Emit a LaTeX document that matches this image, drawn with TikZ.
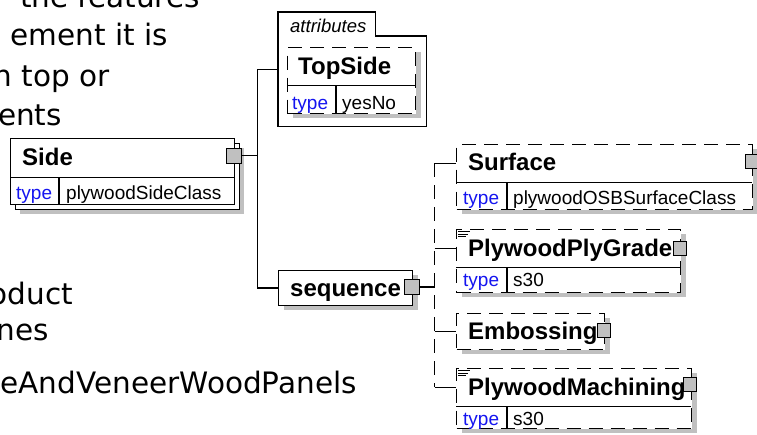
\documentclass[tikz,border=0pt]{standalone}
\usepackage{fontspec}
\setmainfont{Liberation Sans}
\newfontfamily\bgfont{DejaVu Sans}
\usetikzlibrary{calc}
\definecolor{shadowgray}{RGB}{192,192,192}
\definecolor{pluggray}{RGB}{192,192,192}
\definecolor{typeblue}{RGB}{20,20,240}

\begin{document}
\begin{tikzpicture}[x=1pt, y=-1pt,
    every node/.style={inner sep=0pt},
    elbox/.style={draw, line width=1.2pt, fill=white, anchor=north west},
    optbox/.style={elbox, dash pattern=on 14pt off 8pt},
    shade/.style={fill=shadowgray, anchor=north west},
    hdr/.style={anchor=north west},
    sep/.style={line width=1.2pt},
    link/.style={line width=1.2pt},
    optlink/.style={link, dash pattern=on 14pt off 8pt},
    ttl/.style={font=\bfseries\fontsize{24}{24}\selectfont, anchor=base west},
    typ/.style={font=\fontsize{19}{19}\selectfont, text=typeblue, anchor=base west},
    val/.style={font=\fontsize{19}{19}\selectfont, anchor=base west},
    plug/.style={draw, fill=pluggray, line width=1pt, minimum width=13pt, minimum height=14pt},
    doc/.style={line width=0.8pt},
    bg/.style={font=\bgfont\fontsize{29.5}{29.5}\selectfont, anchor=base east}
  ]
  \useasboundingbox (0,0) rectangle (757,435);
  \clip (0,0) rectangle (757,435);
  \fill[white] (0,0) rectangle (757,435);

  % text of the page behind the diagram
  \node[bg] (bg1) at (200,8) {the features};
  \node[bg] (bg2) at (168,46) {ement it is};
  \node[bg] (bg3) at (110,87) {n top or};
  \node[bg] (bg4) at (62,126) {ents};
  \node[bg] (bg5) at (73,305) {oduct};
  \node[bg] (bg6) at (49,340) {nes};
  \node[bg] (bg7) at (357,393) {teAndVeneerWoodPanels};

  % Side
  \node[shade, minimum width=224pt, minimum height=66pt] (side-sh) at (20,148) {};
  \node[elbox, minimum width=224pt, minimum height=66pt] (side-bk) at (15,143) {};
  \node[elbox, minimum width=224pt, minimum height=66pt] (side) at (10,138) {};
  \node[hdr, minimum width=224pt, minimum height=39pt] (side-hd) at (10,138) {};
  \draw[sep] (side-hd.south west) -- (side-hd.south east);
  \draw[sep] ([xshift=49pt]side-hd.south west) -- ([xshift=49pt]side.south west);
  \node[ttl] (side-t) at ([xshift=12pt, yshift=-8pt]side-hd.west) {Side};
  \node[typ] (side-k) at ([xshift=6pt, yshift=6pt]side.south west) {type};
  \node[val] (side-v) at ([xshift=56pt, yshift=6pt]side.south west) {plywoodSideClass};
  \node[plug, minimum width=15pt, minimum height=15pt] (sidePlug) at ([yshift=2pt]side-hd.east) {};

  % attributes
  \node[hdr, minimum width=97pt, minimum height=24pt] (attTab) at (278,12) {};
  \node[hdr, minimum width=148pt, minimum height=90pt] (attBody) at (278,36) {};
  \node[hdr, minimum width=148pt, minimum height=114pt] (attAll) at (278,12) {};
  \draw[link] (attTab.south west) |- (attTab.north east) |- (attBody.north east) |- (attBody.south west) -- cycle;
  \node[font=\itshape\fontsize{18.5}{18.5}\selectfont, anchor=base west] (attLbl) at (290,33) {attributes};

  % TopSide
  \node[shade, minimum width=128pt, minimum height=66pt] (top-sh) at (293,52) {};
  \node[optbox, minimum width=128pt, minimum height=66pt] (top) at (287,47) {};
  \node[hdr, minimum width=128pt, minimum height=38pt] (top-hd) at (287,47) {};
  \draw[sep] (top-hd.south west) -- (top-hd.south east);
  \draw[sep] ([xshift=49pt]top-hd.south west) -- ([xshift=49pt]top.south west);
  \node[ttl] (top-t) at ([xshift=11pt, yshift=-8pt]top-hd.west) {TopSide};
  \node[typ] (top-k) at ([xshift=5pt, yshift=5pt]top.south west) {type};
  \node[val] (top-v) at ([xshift=55pt, yshift=5pt]top.south west) {yesNo};

  % sequence
  \node[shade, minimum width=134pt, minimum height=35pt] (seq-sh) at (284,275) {};
  \node[elbox, minimum width=134pt, minimum height=35pt] (seq) at (278,270) {};
  \node[ttl] (seq-t) at ([xshift=12pt, yshift=-8pt]seq.west) {sequence};
  \node[plug, minimum width=15pt, minimum height=15pt] (seqPlug) at ([xshift=-1.5pt, yshift=1pt]seq.east) {};

  % Surface
  \node[shade, minimum width=296pt, minimum height=65pt] (surf-sh) at (462,149) {};
  \node[optbox, minimum width=296pt, minimum height=65pt] (surf) at (456,144) {};
  \node[hdr, minimum width=296pt, minimum height=38pt] (surf-hd) at (456,144) {};
  \draw[sep] (surf-hd.south west) -- (surf-hd.south east);
  \draw[sep] ([xshift=51pt]surf-hd.south west) -- ([xshift=51pt]surf.south west);
  \node[ttl] (surf-t) at ([xshift=12pt, yshift=-7.5pt]surf-hd.west) {Surface};
  \node[typ] (surf-k) at ([xshift=7pt, yshift=6pt]surf.south west) {type};
  \node[val] (surf-v) at ([xshift=57pt, yshift=6pt]surf.south west) {plywoodOSBSurfaceClass};
  \node[plug] (surfPlug) at ([yshift=2pt]surf-hd.east) {};

  % PlywoodPlyGrade
  \node[shade, minimum width=224pt, minimum height=63pt] (ply-sh) at (462,234) {};
  \node[optbox, minimum width=224pt, minimum height=63pt] (ply) at (456,229) {};
  \node[hdr, minimum width=224pt, minimum height=38pt] (ply-hd) at (456,229) {};
  \draw[sep] (ply-hd.south west) -- (ply-hd.south east);
  \draw[sep] ([xshift=51pt]ply-hd.south west) -- ([xshift=51pt]ply.south west);
  \node[ttl] (ply-t) at ([xshift=12pt, yshift=-8pt]ply-hd.west) {PlywoodPlyGrade};
  \node[typ] (ply-k) at ([xshift=7pt, yshift=7pt]ply.south west) {type};
  \node[val] (ply-v) at ([xshift=57pt, yshift=7pt]ply.south west) {s30};
  \node[plug] (plyPlug) at (ply-hd.east) {};
  \foreach \d/\l in {2.5/12,5/10,7.5/8}
    \draw[doc] ([xshift=2pt, yshift=-\d pt]ply.north west) -- ++(\l pt,0);

  % Embossing
  \node[shade, minimum width=148pt, minimum height=36pt] (emb-sh) at (462,318) {};
  \node[optbox, minimum width=148pt, minimum height=36pt] (emb) at (456,313) {};
  \node[hdr, minimum width=148pt, minimum height=36pt] (emb-hd) at (456,313) {};
  \node[ttl] (emb-t) at ([xshift=12pt, yshift=-8pt]emb-hd.west) {Embossing};
  \node[plug] (embPlug) at ([xshift=-0.5pt, yshift=1pt]emb-hd.east) {};

  % PlywoodMachining
  \node[shade, minimum width=235pt, minimum height=60pt] (mach-sh) at (462,373) {};
  \node[optbox, minimum width=235pt, minimum height=60pt] (mach) at (456,368) {};
  \node[hdr, minimum width=235pt, minimum height=38pt] (mach-hd) at (456,368) {};
  \draw[sep] (mach-hd.south west) -- (mach-hd.south east);
  \draw[sep] ([xshift=51pt]mach-hd.south west) -- ([xshift=51pt]mach.south west);
  \node[ttl] (mach-t) at ([xshift=12pt, yshift=-8pt]mach-hd.west) {PlywoodMachining};
  \node[typ] (mach-k) at ([xshift=7pt, yshift=4pt]mach.south west) {type};
  \node[val] (mach-v) at ([xshift=57pt, yshift=4pt]mach.south west) {s30};
  \node[plug] (machPlug) at ([xshift=-1pt, yshift=2.5pt]mach-hd.east) {};
  \foreach \d/\l in {2.5/12,5/10,7.5/8}
    \draw[doc] ([xshift=2pt, yshift=-\d pt]mach.north west) -- ++(\l pt,0);

  % connectors
  \coordinate (fork) at ([xshift=15pt]sidePlug.east);
  \draw[link] (sidePlug.east) -- (fork);
  \draw[link] (fork) |- (attAll.west);
  \draw[link] (fork) |- (seq.west);
  \coordinate (seqFork) at ([xshift=15pt]seqPlug.east);
  \draw[link] (seqPlug.east) -- (seqFork);
  \draw[optlink] (seqFork |- surf-hd.west) -- (seqFork |- mach-hd.west);
  \foreach \e in {surf, ply, emb, mach}
    \draw[link] (seqFork |- \e-hd.west) -- (\e-hd.west);
\end{tikzpicture}
\end{document}
